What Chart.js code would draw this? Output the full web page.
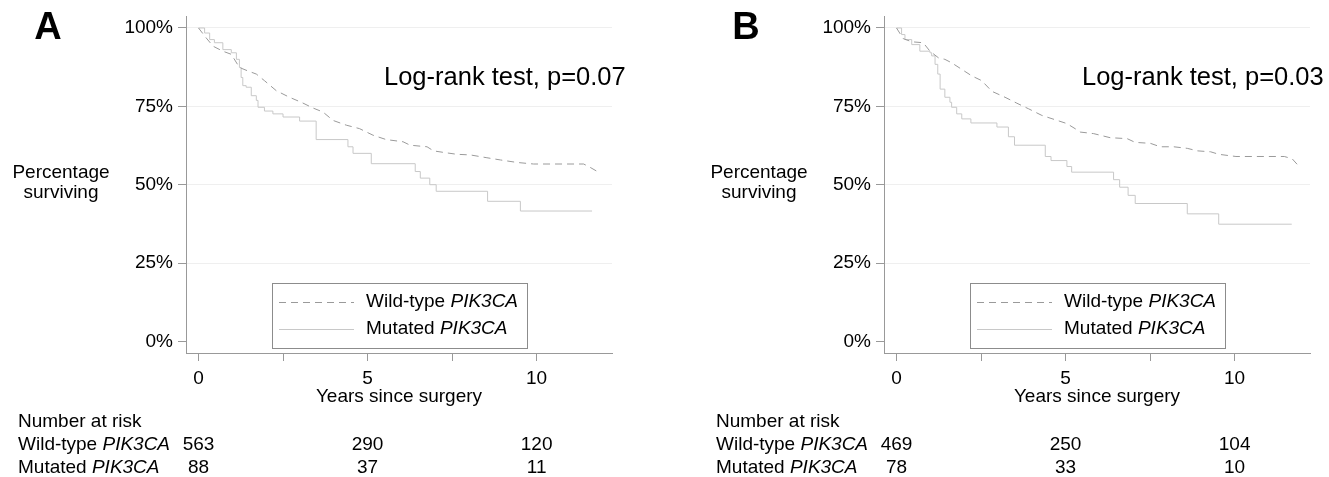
<!DOCTYPE html>
<html>
<head>
<meta charset="utf-8">
<script src="https://cdn.jsdelivr.net/npm/chart.js@4.4.1/dist/chart.umd.min.js"></script>
<style>
  body { margin: 0; background: #fff; width: 1329px; height: 477px; overflow: hidden; position: relative; }
  canvas { position: absolute; top: 0; }
  #chartA { left: 0; }
  #chartB { left: 698px; }
</style>
</head>
<body>
<canvas id="chartA" width="698" height="477"></canvas>
<canvas id="chartB" width="631" height="477"></canvas>
<script>
// Survival curves (years, % surviving)
const timesA_wt = [0, 0.23, 0.43, 0.72, 0.97, 1.21, 1.46, 1.71, 1.95, 2.3, 2.69, 3.04, 3.38, 3.68, 3.98, 4.37, 4.76, 5.16, 5.55, 6.05, 6.26, 6.76, 6.95, 7.25, 7.64, 8.04, 8.53, 8.93, 9.42, 9.91, 11.39, 11.54, 11.83];
const survA_wt  = [100, 96.8, 94.2, 92.6, 91.6, 87.4, 86.3, 85.3, 83.2, 80.0, 77.9, 76.3, 74.5, 73.2, 70.5, 69.0, 67.9, 65.8, 64.4, 63.7, 62.6, 62.1, 60.8, 60.3, 59.7, 59.5, 58.6, 57.9, 57.1, 56.6, 56.6, 55.8, 54.0];

const timesA_mut = [0, 0.18, 0.33, 0.47, 0.72, 0.97, 1.12, 1.21, 1.26, 1.31, 1.41, 1.56, 1.71, 1.76, 1.95, 2.2, 2.5, 2.99, 3.48, 4.42, 4.57, 5.11, 6.41, 6.56, 6.84, 7.03, 8.55, 9.52, 11.64];
const survA_mut  = [100, 98.4, 96.3, 95.3, 93.1, 92.1, 90.0, 87.4, 84.2, 81.6, 81.1, 78.4, 76.9, 74.7, 73.5, 72.6, 71.6, 70.3, 64.4, 62.1, 60.0, 56.7, 54.2, 52.1, 50.0, 47.9, 44.7, 41.6, 41.6];

const timesB_wt = [0, 0.2, 0.45, 0.79, 0.99, 1.24, 1.43, 1.63, 1.93, 2.23, 2.52, 2.82, 3.21, 3.56, 3.91, 4.3, 4.7, 5.04, 5.28, 5.43, 5.83, 6.32, 6.82, 7.06, 7.51, 7.8, 8.2, 8.6, 8.9, 9.29, 9.53, 10.04, 11.47, 11.7, 11.85];
const survB_wt  = [100, 96.6, 95.6, 95.3, 92.6, 90.5, 90.0, 88.9, 86.8, 84.7, 83.2, 79.8, 77.9, 76.0, 74.2, 72.1, 70.7, 69.5, 67.9, 66.8, 66.3, 65.0, 64.7, 63.5, 63.2, 62.1, 62.1, 61.6, 60.8, 60.5, 59.7, 59.0, 59.0, 58.3, 56.5];

const timesB_mut = [0, 0.15, 0.25, 0.45, 0.69, 0.99, 1.04, 1.14, 1.22, 1.29, 1.43, 1.58, 1.63, 1.78, 1.93, 2.2, 2.97, 3.31, 3.49, 4.4, 4.57, 5.04, 5.18, 6.42, 6.6, 6.85, 7.06, 8.6, 9.53, 11.69];
const survB_mut  = [100, 97.9, 96.3, 94.7, 92.6, 92.1, 91.1, 88.4, 85.3, 80.5, 77.9, 76.3, 74.7, 72.6, 71.0, 69.7, 68.4, 65.3, 62.6, 59.0, 57.7, 55.8, 54.0, 51.6, 49.2, 46.6, 44.0, 40.7, 37.4, 37.4];

// Number at risk table
const riskTimes = [0, 5, 10];
const riskA_wt = [563, 290, 120];
const riskA_mut = [88, 37, 11];
const riskB_wt = [469, 250, 104];
const riskB_mut = [78, 33, 10];

// Axis ticks
const xTicks = [0, 2.5, 5, 7.5, 10];
const xTickLabels = [0, 5, 10];
const yTicks = [0, 25, 50, 75, 100];

const FONT = '"Liberation Sans", Arial, Helvetica, sans-serif';
const TEXT_SIZE = 19;
const WT_COLOR = '#9a9a9a';
const MUT_COLOR = '#c8c8c8';
const AXIS_COLOR = '#999999';

function toPoints(times, surv) {
    return times.map((t, i) => ({ x: t, y: surv[i] }));
}

// draw a run of text pieces, some italic
function drawParts(ctx, parts, x, y, size) {
    let cx = x;
    parts.forEach(p => {
        ctx.font = (p.italic ? 'italic ' : '') + size + 'px ' + FONT;
        ctx.fillText(p.text, cx, y);
        cx += ctx.measureText(p.text).width;
    });
}

const wtParts = [{ text: 'Wild-type ' }, { text: 'PIK3CA', italic: true }];
const mutParts = [{ text: 'Mutated ' }, { text: 'PIK3CA', italic: true }];

const annotations = {
    id: 'kmAnnotations',
    afterDraw(chart, args, opts) {
        const ctx = chart.ctx;
        const ca = chart.chartArea;
        const xs = chart.scales.x;
        ctx.save();
        ctx.fillStyle = '#000';
        ctx.textBaseline = 'middle';

        // panel letter
        ctx.textAlign = 'center';
        ctx.font = 'bold 38px ' + FONT;
        ctx.fillText(opts.letter, 48, 29);

        // y title
        ctx.font = TEXT_SIZE + 'px ' + FONT;
        ctx.fillText('Percentage', 61, 173);
        ctx.fillText('surviving', 61, 193);

        // x title
        ctx.fillText('Years since surgery', (ca.left + ca.right) / 2, 397);

        // log-rank text
        ctx.textAlign = 'left';
        ctx.font = '25.5px ' + FONT;
        ctx.fillText(opts.logrank, ca.left + 198, 78);

        // legend box
        const lx = ca.left + 86, ly = 283, lw = 255, lh = 65;
        ctx.fillStyle = '#fff';
        ctx.fillRect(lx, ly, lw, lh);
        ctx.strokeStyle = '#8c8c8c';
        ctx.lineWidth = 1;
        ctx.strokeRect(lx + 0.5, ly + 0.5, lw, lh);

        ctx.strokeStyle = WT_COLOR;
        ctx.setLineDash([7, 5]);
        ctx.beginPath();
        ctx.moveTo(lx + 7, ly + 19.5);
        ctx.lineTo(lx + 82, ly + 19.5);
        ctx.stroke();
        ctx.setLineDash([]);
        ctx.strokeStyle = MUT_COLOR;
        ctx.beginPath();
        ctx.moveTo(lx + 7, ly + 46.5);
        ctx.lineTo(lx + 82, ly + 46.5);
        ctx.stroke();

        ctx.fillStyle = '#000';
        drawParts(ctx, wtParts, lx + 94, ly + 19, TEXT_SIZE);
        drawParts(ctx, mutParts, lx + 94, ly + 46, TEXT_SIZE);

        // number at risk
        ctx.font = TEXT_SIZE + 'px ' + FONT;
        ctx.fillText('Number at risk', 18, 422);
        drawParts(ctx, wtParts, 18, 445, TEXT_SIZE);
        drawParts(ctx, mutParts, 18, 468, TEXT_SIZE);
        ctx.textAlign = 'center';
        ctx.font = TEXT_SIZE + 'px ' + FONT;
        riskTimes.forEach((t, i) => {
            const px = xs.getPixelForValue(t);
            ctx.fillText(String(opts.riskWt[i]), px, 445);
            ctx.fillText(String(opts.riskMut[i]), px, 468);
        });
        ctx.restore();
    }
};

function createChart(id, panel) {
    const ctx = document.getElementById(id).getContext('2d');
    return new Chart(ctx, {
        type: 'line',
        data: {
            datasets: [
                {
                    label: 'Wild-type PIK3CA',
                    data: toPoints(panel.wtTimes, panel.wtSurv),
                    borderColor: WT_COLOR,
                    borderWidth: 1,
                    borderDash: [7, 5],
                    pointRadius: 0,
                    fill: false,
                    tension: 0
                },
                {
                    label: 'Mutated PIK3CA',
                    data: toPoints(panel.mutTimes, panel.mutSurv),
                    borderColor: MUT_COLOR,
                    borderWidth: 1,
                    stepped: true,
                    pointRadius: 0,
                    fill: false
                }
            ]
        },
        options: {
            responsive: false,
            animation: false,
            devicePixelRatio: 1,
            layout: { padding: { left: 0, top: 13, right: panel.padRight, bottom: 0 } },
            plugins: {
                legend: { display: false },
                tooltip: { enabled: false },
                kmAnnotations: {
                    letter: panel.letter,
                    logrank: panel.logrank,
                    riskWt: panel.riskWt,
                    riskMut: panel.riskMut
                }
            },
            scales: {
                x: {
                    type: 'linear',
                    min: -0.37,
                    max: 12.23,
                    afterBuildTicks: s => { s.ticks = xTicks.map(v => ({ value: v })); },
                    afterFit: s => { s.height = 124; },
                    ticks: {
                        callback: v => xTickLabels.includes(v) ? String(v) : '',
                        font: { family: FONT, size: TEXT_SIZE },
                        color: '#000',
                        padding: 6,
                        maxRotation: 0,
                        autoSkip: false
                    },
                    grid: { drawOnChartArea: false, tickLength: 8, tickColor: AXIS_COLOR, color: AXIS_COLOR },
                    border: { color: AXIS_COLOR, width: 1 }
                },
                y: {
                    min: -3.7,
                    max: 103.7,
                    afterBuildTicks: s => { s.ticks = yTicks.map(v => ({ value: v })); },
                    afterFit: s => { s.width = 186; },
                    ticks: {
                        callback: v => v + '%',
                        font: { family: FONT, size: TEXT_SIZE },
                        color: '#000',
                        padding: 5
                    },
                    grid: {
                        color: c => (c.tick && c.tick.value === 0) ? 'rgba(0,0,0,0)' : '#efefef',
                        tickColor: AXIS_COLOR,
                        tickLength: 8
                    },
                    border: { color: AXIS_COLOR, width: 1 }
                }
            }
        },
        plugins: [annotations]
    });
}

window.onload = function () {
    createChart('chartA', {
        letter: 'A', logrank: 'Log-rank test, p=0.07', padRight: 86,
        wtTimes: timesA_wt, wtSurv: survA_wt, mutTimes: timesA_mut, mutSurv: survA_mut,
        riskWt: riskA_wt, riskMut: riskA_mut
    });
    createChart('chartB', {
        letter: 'B', logrank: 'Log-rank test, p=0.03', padRight: 19,
        wtTimes: timesB_wt, wtSurv: survB_wt, mutTimes: timesB_mut, mutSurv: survB_mut,
        riskWt: riskB_wt, riskMut: riskB_mut
    });
};
</script>
</body>
</html>
